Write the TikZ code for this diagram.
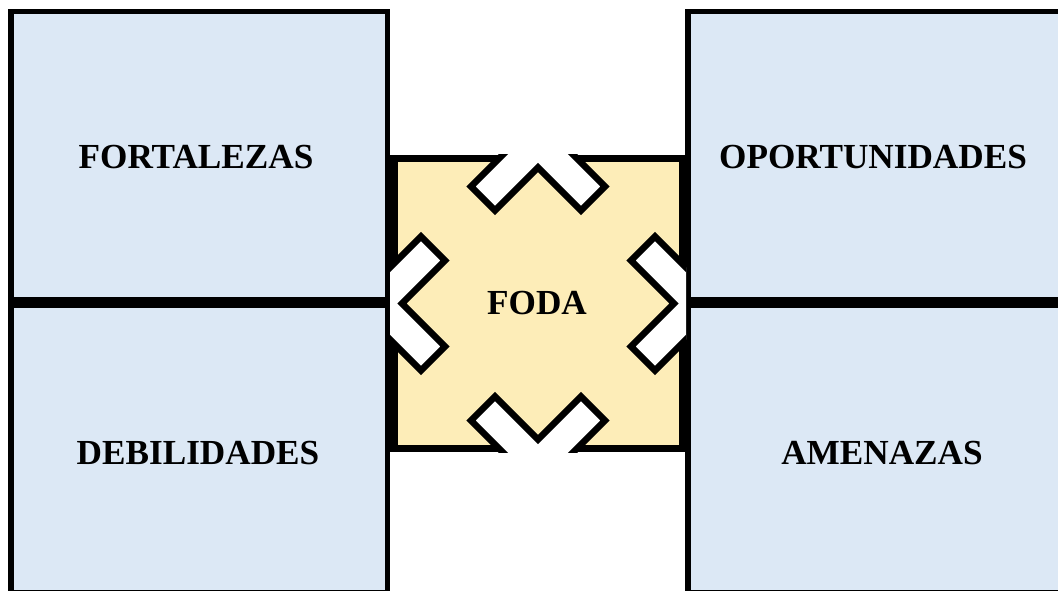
\documentclass[tikz,border=0pt]{standalone}
\usepackage{fontspec}
\setmainfont{Liberation Serif}
\definecolor{swotblue}{HTML}{DCE8F5}
\definecolor{fodayellow}{HTML}{FDEDB8}
\begin{document}
\begin{tikzpicture}[x=1pt,y=-1pt,
  quad/.style={fill=swotblue,draw=black,line width=5.5pt},
  core/.style={fill=fodayellow,draw=black,line width=7.5pt},
  chev/.style={fill=white,draw=black,line width=6.5pt,line join=miter},
  lbl/.style={font=\fontsize{35.2}{40}\selectfont\bfseries,inner sep=0pt}]
\useasboundingbox (0,0) rectangle (1058,591);

% four quadrants
\draw[quad] (11,11.5) rectangle (387.5,300);
\draw[quad] (11,305) rectangle (387.5,593);
\draw[quad] (688,11.5) rectangle (1064,300);
\draw[quad] (688,305) rectangle (1064,593);

% central square
\draw[core] (393.75,158.75) rectangle (682.25,448.25);

% white chevrons notched into the square, clipped to its outer edge
\begin{scope}
  \clip (390,155) rectangle (686,452);
  \foreach \a in {0,90,180,270}{
    \begin{scope}[shift={(538,303.5)},rotate=\a]
      \draw[chev] (-43,-93) -- (0,-136) -- (43,-93) -- (67,-117)
                  -- (0,-184) -- (-67,-117) -- cycle;
    \end{scope}
  }
\end{scope}

% labels
\node[lbl] (fort) at (196,157) {FORTALEZAS};
\node[lbl] (debi) at (198,453) {DEBILIDADES};
\node[lbl] (opor) at (873,157) {OPORTUNIDADES};
\node[lbl] (amen) at (882,453) {AMENAZAS};
\node[lbl] (foda) at (537,303) {FODA};
\end{tikzpicture}
\end{document}
